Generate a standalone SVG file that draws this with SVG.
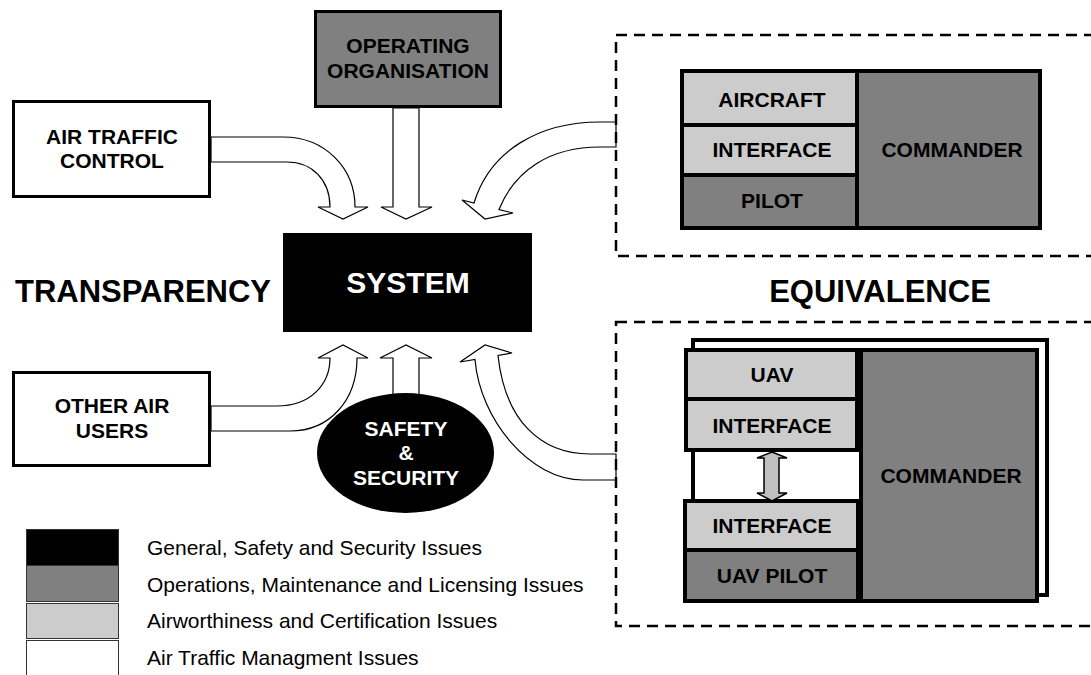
<svg xmlns="http://www.w3.org/2000/svg" width="1091" height="675" viewBox="0 0 1091 675">
<style>
  .b{font-family:"Liberation Sans",Arial,sans-serif;font-weight:bold;text-anchor:middle}
  .t21{font-size:21px}
  .big{font-size:31px}
  .w{fill:#fff}
  .k{fill:#000}
  .arr{fill:#fff;stroke:#000;stroke-width:1.2;stroke-linejoin:miter}
  .box{stroke:#000;stroke-width:3}
  .cell{stroke:#000;stroke-width:4}
  .dash{fill:none;stroke:#000;stroke-width:2.5;stroke-dasharray:11 7}
  .lg{font-family:"Liberation Sans",Arial,sans-serif;font-size:21px;fill:#000}
  .sw{stroke:#333;stroke-width:1}
</style>
<rect width="1091" height="675" fill="#fff"/>

<g id="connectors">
  <path class="arr" d="M211,137 L283,137 C325,137 355,168 355,207 L368,207 L343,219 L318,207 L330,207 C330,180 312,162 287,162 L211,162 Z"/>
  <path class="arr" d="M393,108 L393,207 L381,207 L406,219 L432,207 L419,207 L419,108 Z"/>
  <path class="arr" d="M616,122 L600,122 C540,122 490,150 474,203 L462,200 L485,219 L513,213 L499,209.5 C515,170 550,147 600,147 L616,147 Z"/>
  <path class="arr" d="M211,406 L277,406 C310,406 330,385 330,358 L318,358 L343,345 L368,358 L357,358 C357,400 330,431 290,431 L211,431 Z"/>
  <path class="arr" d="M393,400 L393,358 L380,358 L406,345 L432,358 L419,358 L419,400 Z"/>
  <path class="arr" d="M616,454 L590,454 C540,454 505,420 498,355.5 L512,353 L485,345 L460,362 L475,359.5 C480,420 530,480 583,480 L616,480 Z"/>
</g>

<g id="atc">
  <rect class="box" x="13.5" y="101.5" width="196" height="95" fill="#fff"/>
  <text class="b t21" x="112" y="144">AIR TRAFFIC</text>
  <text class="b t21" x="112" y="168">CONTROL</text>
</g>

<g id="operating-organisation">
  <rect class="box" x="315.5" y="11.5" width="185" height="95" fill="#808080"/>
  <text class="b t21" x="408" y="53">OPERATING</text>
  <text class="b t21" x="408" y="78">ORGANISATION</text>
</g>

<g id="system">
  <rect x="283" y="233" width="249" height="99" fill="#000"/>
  <text class="b w" x="408" y="293" font-size="30">SYSTEM</text>
</g>

<g id="transparency">
  <text class="b big" x="143" y="302">TRANSPARENCY</text>
</g>

<g id="other-air-users">
  <rect class="box" x="13.5" y="372.5" width="196" height="93" fill="#fff"/>
  <text class="b t21" x="112" y="413">OTHER AIR</text>
  <text class="b t21" x="112" y="438">USERS</text>
</g>

<g id="safety-security">
  <ellipse cx="405.5" cy="453" rx="88.5" ry="60" fill="#000"/>
  <text class="b t21 w" x="406" y="436">SAFETY</text>
  <text class="b t21 w" x="406" y="460">&amp;</text>
  <text class="b t21 w" x="406" y="485">SECURITY</text>
</g>

<g id="manned-group">
  <rect class="dash" x="616" y="35" width="490" height="221"/>
  <rect class="cell" x="682" y="71" width="175" height="54" fill="#cccccc"/>
  <rect class="cell" x="682" y="125" width="175" height="50" fill="#cccccc"/>
  <rect class="cell" x="682" y="175" width="175" height="53" fill="#808080"/>
  <rect class="cell" x="857" y="71" width="183" height="157" fill="#808080"/>
  <text class="b t21" x="772" y="107">AIRCRAFT</text>
  <text class="b t21" x="772" y="157">INTERFACE</text>
  <text class="b t21" x="772" y="208">PILOT</text>
  <text class="b t21" x="952" y="157">COMMANDER</text>
</g>

<g id="equivalence">
  <text class="b big" x="880" y="302">EQUIVALENCE</text>
</g>

<g id="uav-group">
  <rect class="dash" x="616" y="322" width="490" height="304"/>
  <rect class="cell" x="693" y="340" width="354" height="255" fill="#fff"/>
  <rect class="cell" x="686" y="350" width="171" height="49" fill="#cccccc"/>
  <rect class="cell" x="686" y="399" width="171" height="51" fill="#cccccc"/>
  <rect class="cell" x="685" y="501" width="173" height="49" fill="#cccccc"/>
  <rect class="cell" x="685" y="550" width="173" height="51" fill="#808080"/>
  <rect class="cell" x="861" y="350" width="176" height="251" fill="#808080"/>
  <polygon points="772,452 787,458 779,458 779,493 787,493 772,501 757,493 764,493 764,458 757,458" fill="#c0c0c0" stroke="#000" stroke-width="1.5"/>
  <text class="b t21" x="772" y="382">UAV</text>
  <text class="b t21" x="772" y="433">INTERFACE</text>
  <text class="b t21" x="772" y="533">INTERFACE</text>
  <text class="b t21" x="772" y="583">UAV PILOT</text>
  <text class="b t21" x="951" y="483">COMMANDER</text>
</g>

<g id="legend">
  <rect class="sw" x="26.5" y="529.5" width="92" height="36" fill="#000"/>
  <rect class="sw" x="26.5" y="565.5" width="92" height="36" fill="#808080"/>
  <rect class="sw" x="26.5" y="603.5" width="92" height="35" fill="#cccccc"/>
  <rect class="sw" x="26.5" y="640.5" width="92" height="40" fill="#fff"/>
  <text class="lg" x="147" y="555">General, Safety and Security Issues</text>
  <text class="lg" x="147" y="592">Operations, Maintenance and Licensing Issues</text>
  <text class="lg" x="147" y="628">Airworthiness and Certification Issues</text>
  <text class="lg" x="147" y="665">Air Traffic Managment Issues</text>
</g>
</svg>
